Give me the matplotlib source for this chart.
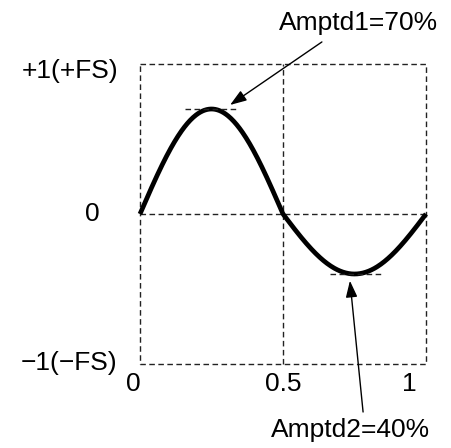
import numpy as np
import matplotlib
matplotlib.use("Agg")
import matplotlib.pyplot as plt

# Data
amp_pos = 0.70   # Amptd1
amp_neg = 0.40   # Amptd2
x_ticks = [0, 0.5, 1]
x_tick_labels = ["0", "0.5", "1"]
y_tick_labels = ["+1(+FS)", "0", "\u22121(\u2212FS)"]
label1 = "Amptd1=70%"
label2 = "Amptd2=40%"

plt.rcParams['font.family'] = ['Liberation Sans', 'DejaVu Sans']

W, H = 451, 448
fig = plt.figure(figsize=(W / 100, H / 100), dpi=100)
L, R, T, B = 140, 426, 64, 364
ax = fig.add_axes([L / W, 1 - B / H, (R - L) / W, (B - T) / H])
ax.set_xlim(0, 1)
ax.set_ylim(-1, 1)
ax.axis('off')

dash = dict(color='#222222', lw=1.0, ls=(0, (4, 2.5)), clip_on=False)
# dashed box and center lines
ax.plot([0, 1, 1, 0, 0], [1, 1, -1, -1, 1], **dash)
ax.plot([0.5, 0.5], [-1, 1], **dash)
ax.plot([0, 1], [0, 0], **dash)

# waveform
t = np.linspace(0, 1, 400)
s = np.sin(2 * np.pi * t)
y = np.where(t <= 0.5, amp_pos * s, amp_neg * s)
ax.plot(t, y, color='black', lw=3.4, solid_capstyle='butt', clip_on=False)

# peak markers
ax.plot([0.157, 0.337], [amp_pos, amp_pos], **dash)
ax.plot([0.664, 0.845], [-amp_neg, -amp_neg], **dash)

fs = 19
# tick labels
for xv, lab, xo in zip(x_ticks, x_tick_labels, [-0.024, 0.002, -0.06]):
    ax.text(xv + xo, -1.133, lab, ha='center', va='center', fontsize=fs)
ax.text(-0.077, 0.955, y_tick_labels[0], ha='right', va='center', fontsize=fs)
ax.text(-0.14, 0.0, y_tick_labels[1], ha='right', va='center', fontsize=fs)
ax.text(-0.08, -0.993, y_tick_labels[2], ha='right', va='center', fontsize=fs)

# annotations
ap = dict(arrowstyle='-|>,head_length=1.0,head_width=0.35', color='black', lw=1.0,
          mutation_scale=10, shrinkA=0, shrinkB=0)
ax.annotate('', xy=(0.315, 0.727), xytext=(0.636, 1.147), arrowprops=ap, annotation_clip=False)
ax.text(0.764, 1.273, label1, ha='center', va='center', fontsize=fs)
ax.annotate('', xy=(0.734, -0.445), xytext=(0.78, -1.32), arrowprops=ap, annotation_clip=False)
ax.text(0.736, -1.44, label2, ha='center', va='center', fontsize=fs)

fig.savefig('out.png', dpi=100)
